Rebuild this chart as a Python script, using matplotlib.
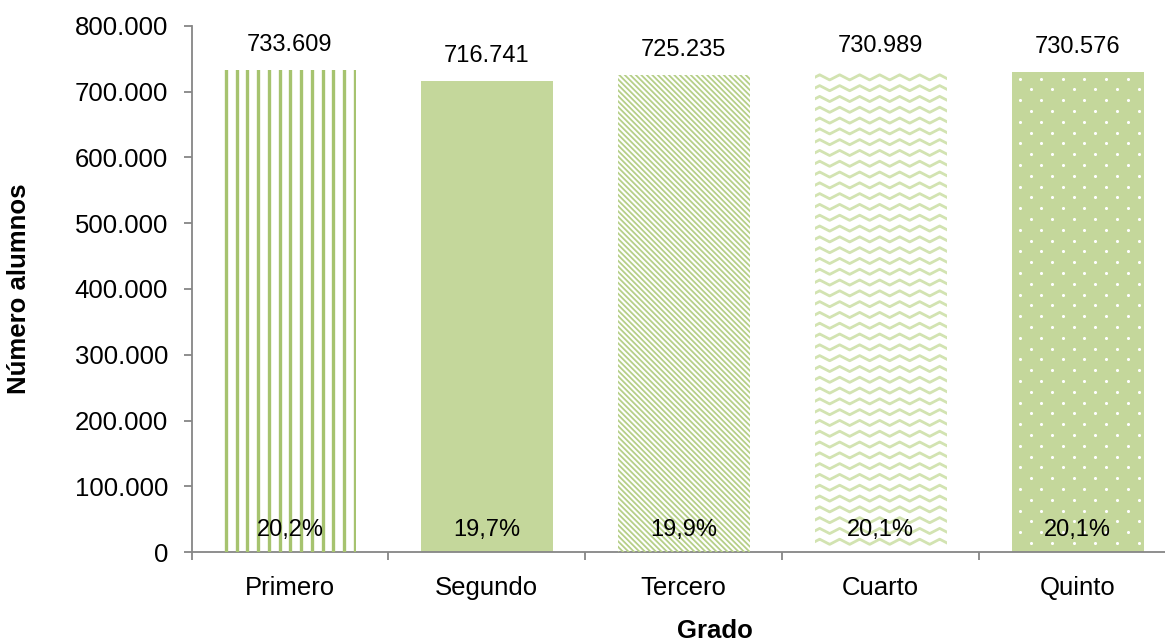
import numpy as np
import matplotlib.pyplot as plt
from matplotlib.collections import LineCollection

grados = ["Primero", "Segundo", "Tercero", "Cuarto", "Quinto"]
alumnos = [733609, 716741, 725235, 730989, 730576]
porcentajes = ["20,2%", "19,7%", "19,9%", "20,1%", "20,1%"]

plt.rcParams['font.family'] = ['Liberation Sans', 'DejaVu Sans']

verde = '#c4d79b'
verde_oscuro = '#a6c36f'

fig = plt.figure(figsize=(11.65, 6.44), dpi=100)
ax = fig.add_axes([191.5 / 1165, 92 / 644, 984.5 / 1165, 526 / 644])
ax.set_xlim(-0.5, 4.5)
ax.set_ylim(0, 800000)

# data units per pixel
sx = 5 / 984.5
sy = 800000 / 526

ancho = 0.67
x = np.arange(len(grados))
caras = ['white', verde, 'white', 'white', verde]
barras = ax.bar(x, alumnos, width=ancho, color=caras, linewidth=0, zorder=2)


def lineas(bar, segs, color, lw):
    lc = LineCollection(segs, colors=color, linewidths=lw, zorder=3,
                        capstyle='projecting')
    ax.add_collection(lc)
    lc.set_clip_path(bar)


# Primero: vertical stripes
b = barras[0]
x0, h = b.get_x(), b.get_height()
x1 = x0 + b.get_width()
xs = np.arange(x0 + 2 * sx, x1, 10.75 * sx)
lineas(b, [[(xi, 0), (xi, h)] for xi in xs], verde_oscuro, 2.4)

# Tercero: diagonal lines
b = barras[2]
x0, h = b.get_x(), b.get_height()
x1 = x0 + b.get_width()
run = h / sy * sx
xs = np.arange(x0 - run, x1, 5.5 * sx)
lineas(b, [[(xi, h), (xi + run, 0)] for xi in xs], '#b6cf88', 1.3)

# Cuarto: waves
b = barras[3]
x0, h = b.get_x(), b.get_height()
x1 = x0 + b.get_width()
xx = np.linspace(x0, x1, 400)
tri = 2 / np.pi * np.arcsin(np.sin(2 * np.pi * (xx - x0) / (20 * sx)))
segs = []
for yk in np.arange(h - 6 * sy, 0, -10.8 * sy):
    segs.append(np.column_stack([xx, yk + 2.6 * sy * tri]))
lineas(b, segs, '#d2e3b1', 2.0)

# Quinto: white dots
b = barras[4]
x0, h = b.get_x(), b.get_height()
x1 = x0 + b.get_width()
px, py = [], []
for k, yk in enumerate(np.arange(h - 7 * sy, 0, -10.8 * sy)):
    off = 8 if k % 2 == 0 else 19
    for xi in np.arange(x0 + off * sx, x1, 21.6 * sx):
        px.append(xi)
        py.append(yk)
pts = ax.scatter(px, py, s=5, color='white', linewidths=0, zorder=3)
pts.set_clip_path(b)

for xi, v, p in zip(x, alumnos, porcentajes):
    ax.annotate(f"{v:,}".replace(",", "."), (xi, v), xytext=(0, 10),
                textcoords='offset points', ha='center', va='bottom',
                fontsize=17, zorder=4)
    ax.annotate(p, (xi, 0), xytext=(0, 8), textcoords='offset points',
                ha='center', va='bottom', fontsize=17, zorder=4)

gris = '#868686'
for s in ['top', 'right']:
    ax.spines[s].set_visible(False)
for s in ['left', 'bottom']:
    ax.spines[s].set_color(gris)
    ax.spines[s].set_linewidth(1.3)

yt = np.arange(0, 800001, 100000)
ax.set_yticks(yt)
ax.set_yticklabels([f"{v:,}".replace(",", ".") for v in yt])
ax.tick_params(axis='y', length=6, width=1.3, color=gris, pad=11,
               labelsize=18.5)
ax.set_xticks(x)
ax.set_xticklabels(grados)
ax.set_xticks(np.arange(-0.5, 5, 1), minor=True)
ax.tick_params(axis='x', which='major', length=0, pad=17, labelsize=18.5)
ax.tick_params(axis='x', which='minor', length=6, width=1.3, color=gris)

fig.text(19 / 1165, 1 - 289 / 644, "Número alumnos", rotation=90,
         ha='center', va='center', fontsize=18.5, fontweight='bold')
fig.text(715 / 1165, 1 - 638 / 644, "Grado", ha='center', va='baseline',
         fontsize=18.5, fontweight='bold')

fig.savefig('out.png', dpi=100)
